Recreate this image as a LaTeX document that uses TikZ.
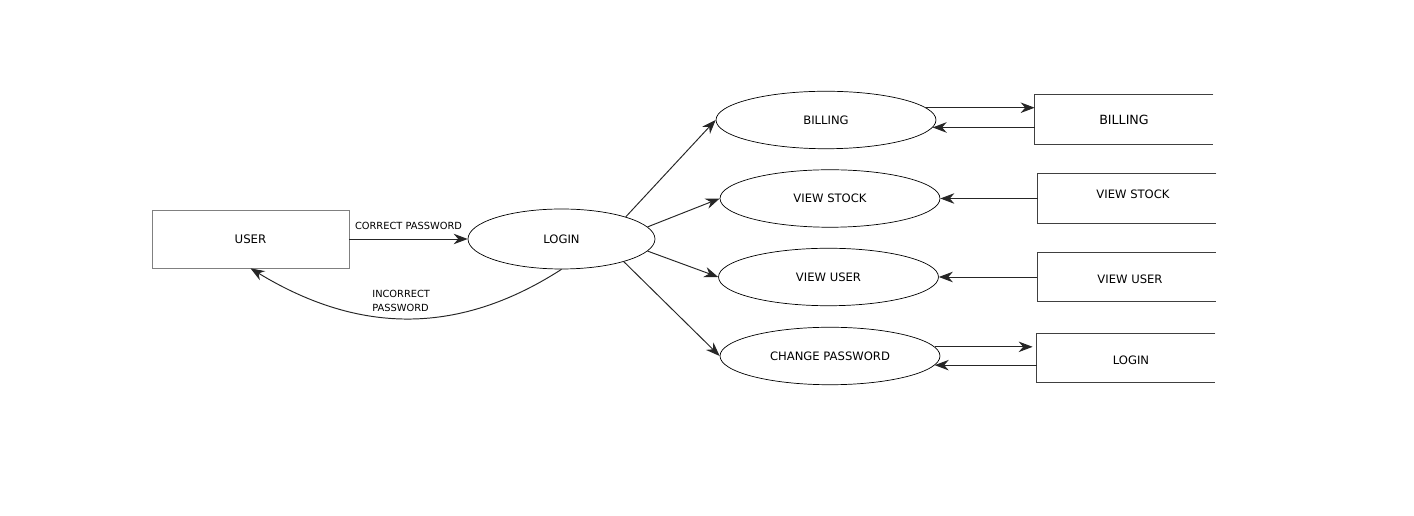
\documentclass[tikz,border=0pt]{standalone}
\usepackage{fontspec}
\setmainfont{DejaVu Sans}
\usetikzlibrary{shapes.geometric,arrows.meta,calc}
\begin{document}
\begin{tikzpicture}[x=0.02cm,y=-0.02cm,
		process/.style={draw, ellipse, thin, inner sep=0pt, minimum width=4.4cm, minimum height=1.15cm, font=\fontsize{6.6}{8}\selectfont},
		entity/.style={draw=black!50, thin, minimum width=3.94cm, minimum height=1.16cm, font=\fontsize{6.7}{8}\selectfont},
		store/.style={minimum width=3.56cm, minimum height=0.98cm, font=\fontsize{6.6}{8}\selectfont},
		flow/.style={draw=black!85, line width=0.55pt, -{Stealth[length=8pt,width=6pt]}},
		lbl/.style={font=\fontsize{5.6}{8}\selectfont, inner sep=0pt}]
	\useasboundingbox (0,0) rectangle (1414,516);
	% external entity and login process
	\node[entity] (user) at (250.5,239) {USER};
	\node[process, minimum width=3.74cm, minimum height=1.2cm] (login) at (561.5,239) {LOGIN};
	% processes
	\node[process] (bill) at (826,120) {BILLING};
	\node[process] (stock) at (830,198.5) {VIEW STOCK};
	\node[process] (vuser) at (828.5,277) {VIEW USER};
	\node[process] (cpass) at (830,356) {CHANGE PASSWORD};
	% data stores (open on the right)
	\node[store, font=\fontsize{7.2}{8}\selectfont] (sbill) at (1124,119.5) {BILLING};
	\node[store] (sstock) at (1127,198.5) {};
	\node[store] (suser) at (1126.5,277) {};
	\node[store] (slogin) at (1126,358) {};
	\node[font=\fontsize{6.6}{8}\selectfont] (tstock) at (1133,194) {VIEW STOCK};
	\node[font=\fontsize{6.6}{8}\selectfont] (tuser) at (1130,279) {VIEW USER};
	\node[font=\fontsize{6.6}{8}\selectfont] (tlogin) at (1131,360) {LOGIN};
	\foreach \s in {sbill,sstock,suser,slogin}
		\draw[black!75, thin] (\s.north east) -- (\s.north west) -- (\s.south west) -- (\s.south east);
	% flows
	\draw[flow] (user) -- node[lbl, above=5pt] (lblright) {CORRECT PASSWORD} (login);
	\draw[flow] (login.south) .. controls (455,338) and (355,332) .. (user.south);
	\node[lbl, anchor=west, align=left] (lblwrong) at (372,301) {INCORRECT\\PASSWORD};
	\draw[flow] (login.19) -- (bill.west);
	\draw[flow] (login.8) -- (stock.west);
	\draw[flow] (login.-8) -- (vuser.west);
	\draw[flow] (login.-20) -- (cpass.west);
	\draw[flow] (bill.7) -- (bill.7 -| sbill.west);
	\draw[flow] (sbill.west |- bill.-4) -- (bill.-4);
	\draw[flow] (sstock.west) -- (stock.east);
	\draw[flow] (suser.west) -- (vuser.east);
	\draw[flow] (cpass.5) -- ($(cpass.5 -| slogin.west)+(-4,0)$);
	\draw[flow] (slogin.west |- cpass.-5) -- (cpass.-5);
\end{tikzpicture}
\end{document}
